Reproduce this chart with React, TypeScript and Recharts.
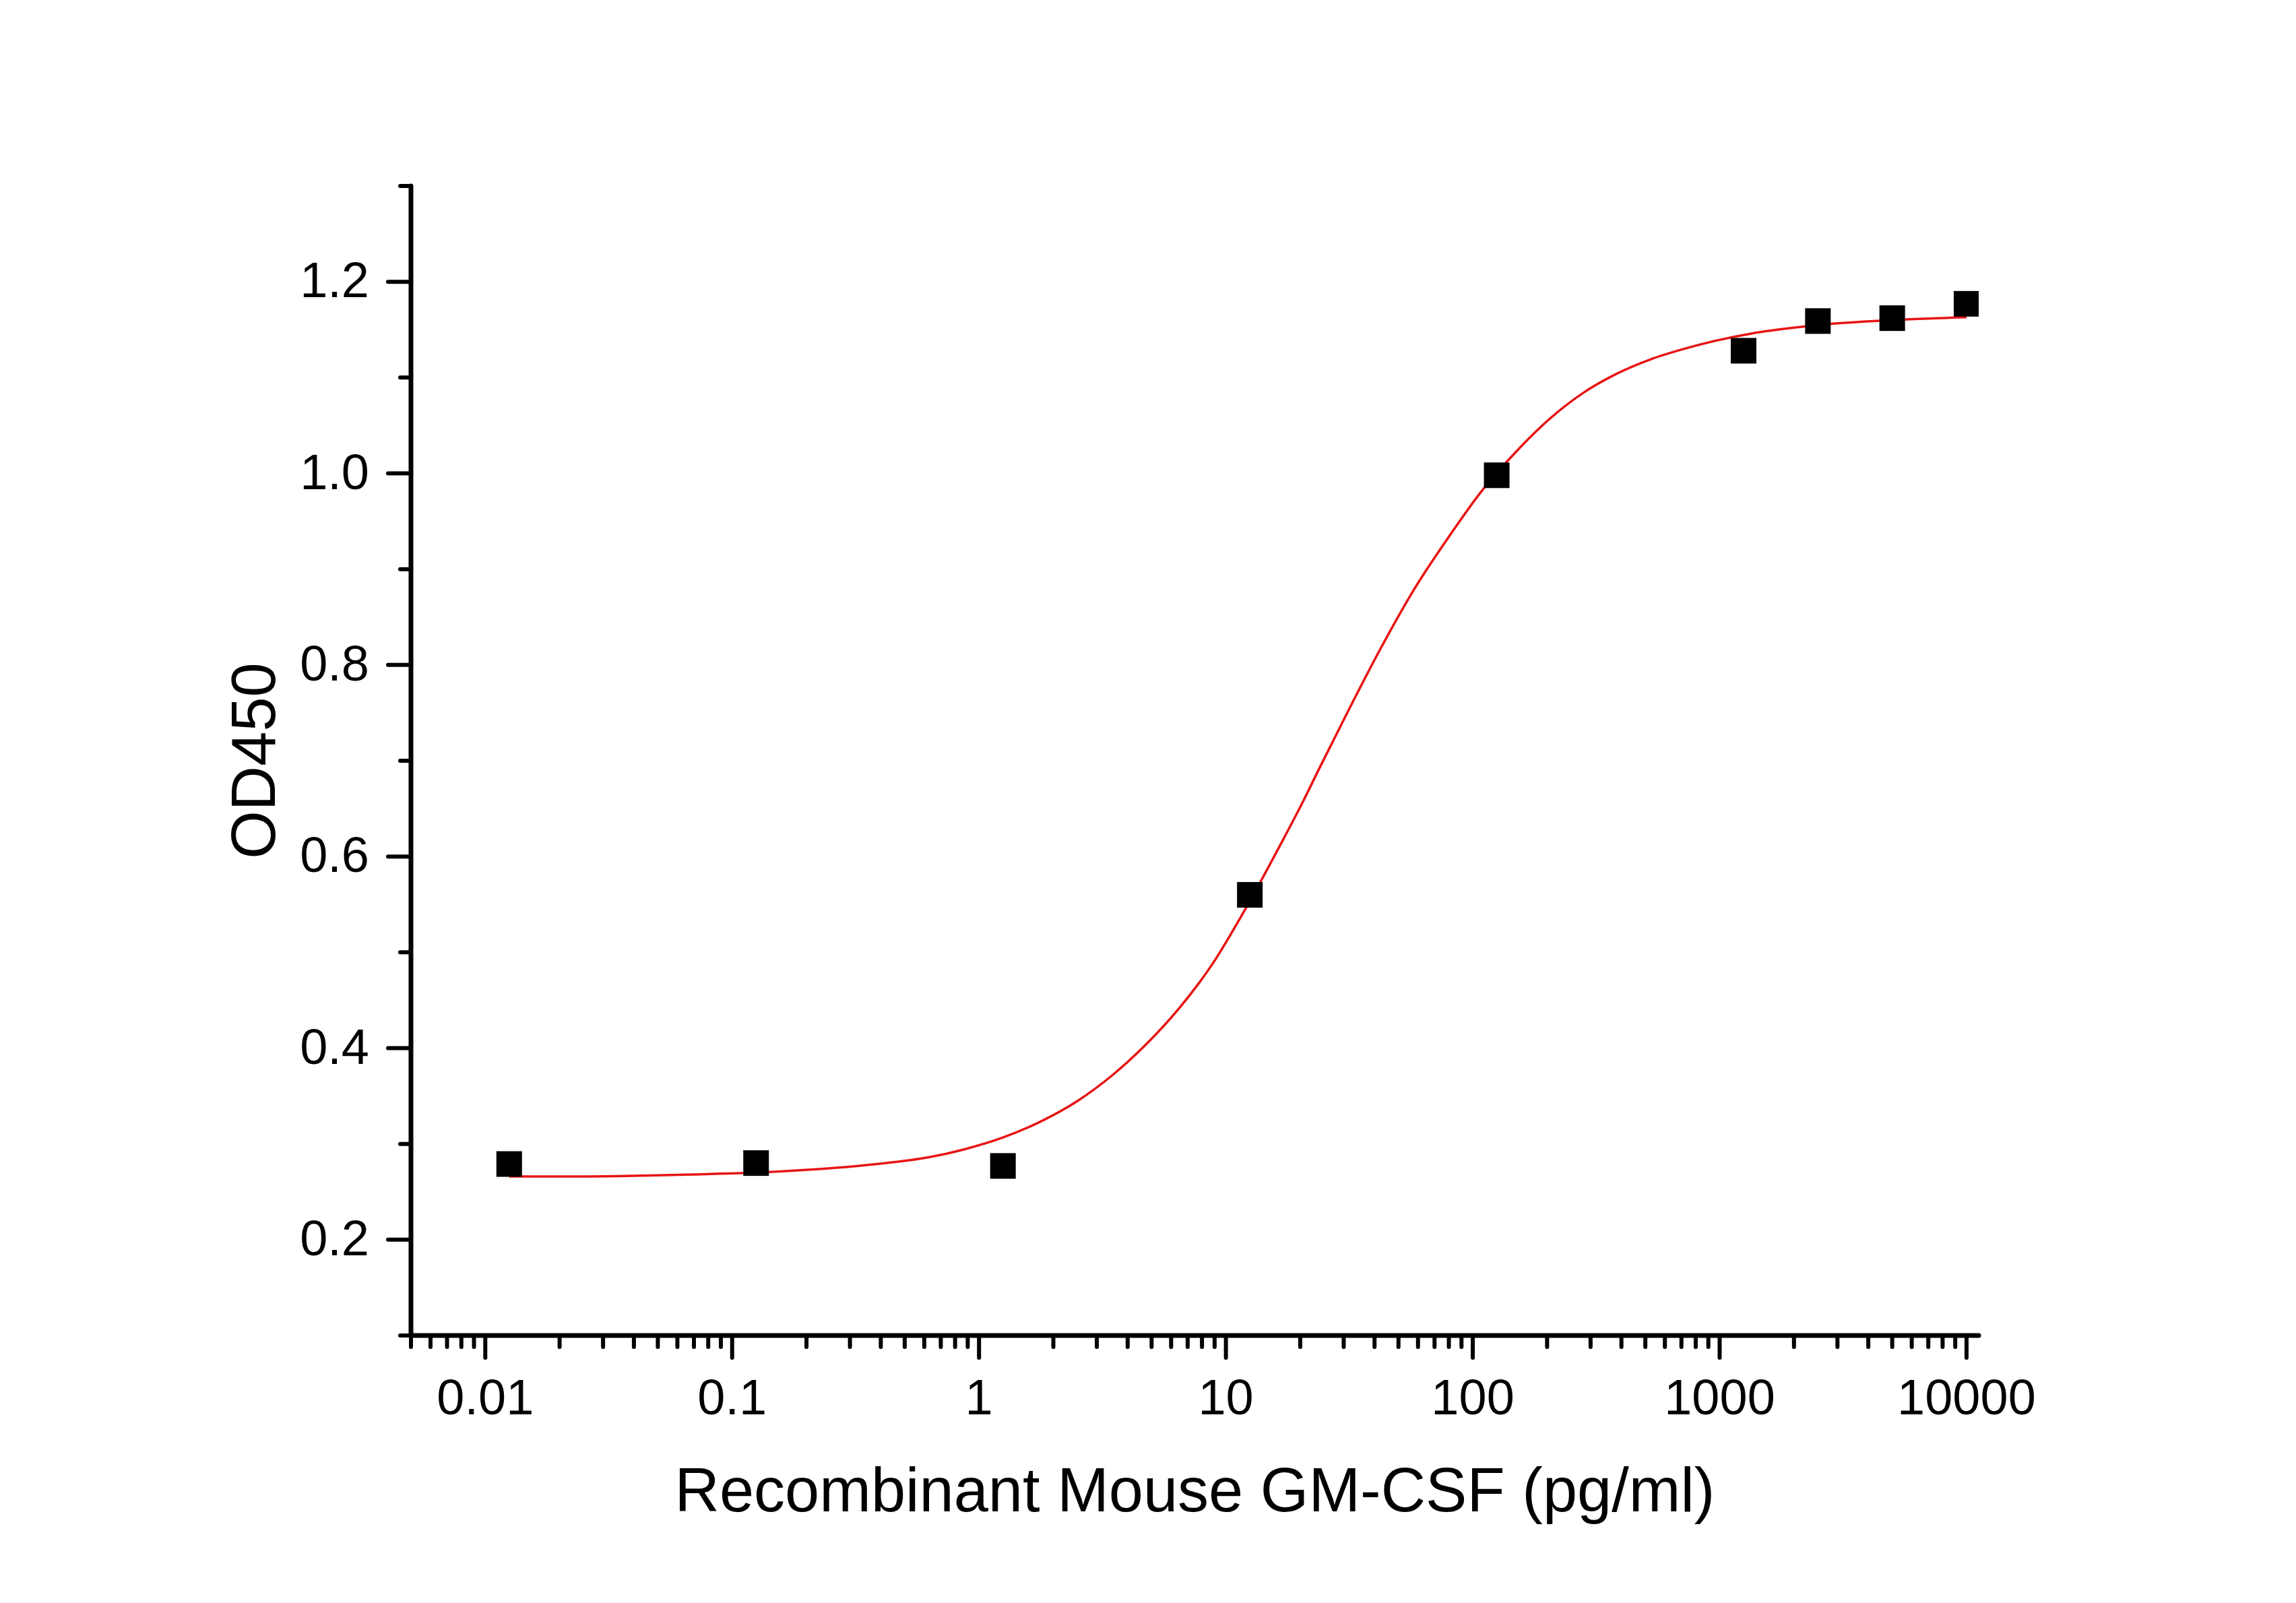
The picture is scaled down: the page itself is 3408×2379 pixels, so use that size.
import { ComposedChart, Line, Scatter, XAxis, YAxis, Label } from 'recharts'

const FONT = '"Liberation Sans", Arial, sans-serif'

// measured standards (pg/ml) and their OD450 readings
const DOSES = [0.0125, 0.125, 1.25, 12.5, 125, 1250, 2500, 5000, 10000]
const OD450 = [0.279, 0.28, 0.277, 0.56, 0.998, 1.128, 1.159, 1.162, 1.177]

// fitted 4PL curve, sampled along the concentration axis
const FIT_X = [
  0.0125, 0.0265, 0.0465, 0.0662, 0.125, 0.203, 0.386, 0.625, 0.862, 1.26, 1.83, 2.51, 3.44,
  4.71, 6.44, 8.83, 12.1, 16.6, 20.4, 23.9, 31, 42.5, 58.2, 79.6, 109, 149, 205, 280, 383, 525,
  719, 984, 1349, 1845, 2529, 5047, 10000,
]
const FIT_Y = [
  0.266, 0.266, 0.267, 0.268, 0.27, 0.273, 0.279, 0.286, 0.294, 0.307, 0.325, 0.345, 0.371,
  0.403, 0.441, 0.488, 0.547, 0.612, 0.656, 0.692, 0.75, 0.818, 0.88, 0.933, 0.982, 1.022, 1.057,
  1.084, 1.104, 1.119, 1.13, 1.139, 1.146, 1.151, 1.155, 1.16, 1.163,
]

const X_MAJOR = [0.01, 0.1, 1, 10, 100, 1000, 10000]
const X_MAJOR_LABELS = ['0.01', '0.1', '1', '10', '100', '1000', '10000']
const X_FIRST_MINOR = [0.005, 0.006, 0.007, 0.008, 0.009]
const MINOR_STEPS = [2, 3, 4, 5, 6, 7, 8, 9]

const Y_TICKS = [0.1, 0.2, 0.3, 0.4, 0.5, 0.6, 0.7, 0.8, 0.9, 1.0, 1.1, 1.2, 1.3]
const Y_TICK_LABELS = ['', '0.2', '', '0.4', '', '0.6', '', '0.8', '', '1.0', '', '1.2', '']

const points = DOSES.map((x, i) => ({ x, y: OD450[i] }))
const fit = FIT_X.map((x, i) => ({ x, y: FIT_Y[i] }))

const xTicks = [
  ...X_FIRST_MINOR,
  ...X_MAJOR,
  ...X_MAJOR.slice(0, -1).flatMap(d => MINOR_STEPS.map(m => d * m)),
].sort((a, b) => a - b)

function XTick(props: any) {
  const { x, y, payload } = props
  const i = X_MAJOR.indexOf(payload.value)
  const major = i >= 0
  return (
    <g>
      <line x1={x} x2={x} y1={y} y2={y + (major ? 33 : 17)} stroke="#000" strokeWidth={6} strokeLinecap="round" />
      {major && (
        <text x={x} y={y + 117} textAnchor="middle" fontSize={74} fontFamily={FONT} fill="#000">
          {X_MAJOR_LABELS[i]}
        </text>
      )}
    </g>
  )
}

function YTick(props: any) {
  const { x, y, payload } = props
  const i = Y_TICKS.findIndex(v => Math.abs(v - payload.value) < 1e-9)
  const label = Y_TICK_LABELS[i] ?? ''
  const major = label !== ''
  return (
    <g>
      <line x1={x} x2={x - (major ? 34 : 16)} y1={y} y2={y} stroke="#000" strokeWidth={6} strokeLinecap="round" />
      {major && (
        <text x={x - 62} y={y + 23} textAnchor="end" fontSize={74} fontFamily={FONT} fill="#000">
          {label}
        </text>
      )}
    </g>
  )
}

function XTitle(props: any) {
  const vb = props.viewBox ?? { x: 610, y: 1982, width: 2327, height: 300 }
  return (
    <text x={vb.x + vb.width / 2} y={vb.y + 261} textAnchor="middle" fontSize={92} fontFamily={FONT} fill="#000">
      Recombinant Mouse GM-CSF (pg/ml)
    </text>
  )
}

function YTitle(props: any) {
  const vb = props.viewBox ?? { x: 310, y: 276, width: 300, height: 1706 }
  const cx = vb.x + vb.width - 202
  const cy = vb.y + vb.height / 2
  return (
    <text x={cx} y={cy} transform={`rotate(-90, ${cx}, ${cy})`} textAnchor="middle" fontSize={92} fontFamily={FONT} fill="#000">
      OD450
    </text>
  )
}

function SquareDot(props: any) {
  const { cx, cy } = props
  return <rect x={cx - 19} y={cy - 19} width={38} height={38} fill="#000" />
}

export default function App() {
  return (
    <div style={{ position: 'absolute', left: 0, top: 0, background: '#fff' }}>
      <ComposedChart width={3408} height={2379} margin={{ top: 276, right: 471, bottom: 97, left: 310 }}>
        <XAxis
          dataKey="x"
          type="number"
          scale="log"
          domain={[0.005, 11200]}
          allowDataOverflow
          ticks={xTicks}
          interval={0}
          tick={<XTick />}
          tickLine={false}
          tickSize={0}
          tickMargin={0}
          height={300}
          axisLine={{ stroke: '#000', strokeWidth: 7, strokeLinecap: 'round' }}
        >
          <Label content={<XTitle />} />
        </XAxis>
        <YAxis
          dataKey="y"
          type="number"
          domain={[0.1, 1.3]}
          allowDataOverflow
          ticks={Y_TICKS}
          interval={0}
          tick={<YTick />}
          tickLine={false}
          tickSize={0}
          tickMargin={0}
          width={300}
          axisLine={{ stroke: '#000', strokeWidth: 7, strokeLinecap: 'round' }}
        >
          <Label content={<YTitle />} />
        </YAxis>
        <Line
          data={fit}
          dataKey="y"
          type="monotone"
          stroke="#e81414"
          strokeWidth={3.5}
          dot={false}
          activeDot={false}
          isAnimationActive={false}
        />
        <Scatter data={points} dataKey="y" fill="#000" shape={<SquareDot />} isAnimationActive={false} />
      </ComposedChart>
    </div>
  )
}
